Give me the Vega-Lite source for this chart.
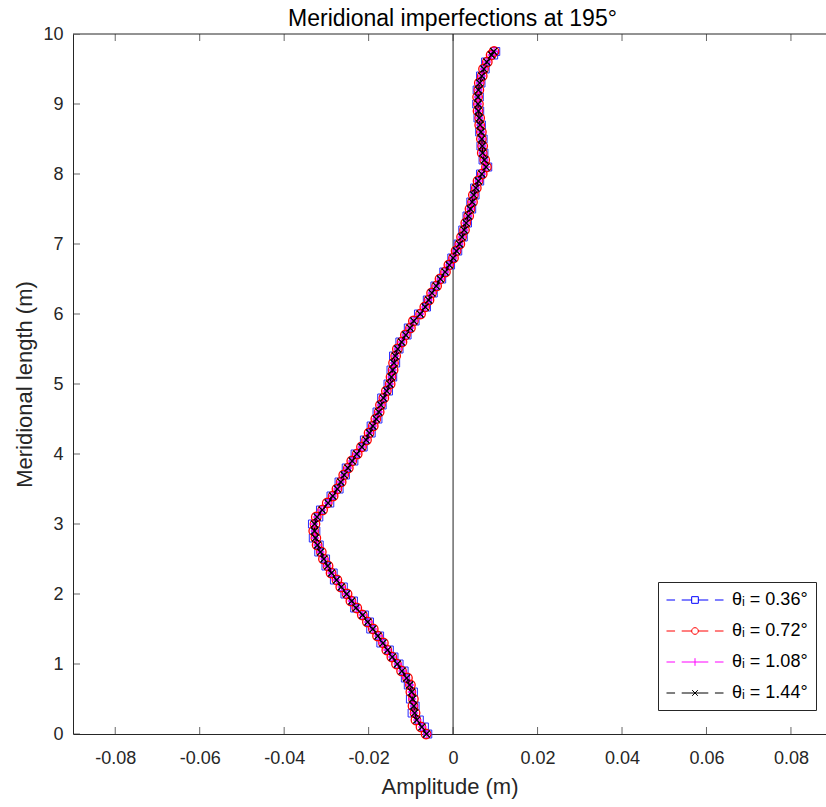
{
"$schema":"https://vega.github.io/schema/vega-lite/v6.json",
"width":753,"height":700,"autosize":"none",
"padding":{"left":73,"top":34,"right":0,"bottom":73},
"background":"white",
"title":{"text":"Meridional imperfections at 195°","font":"Liberation Sans","fontSize":23,"fontWeight":"normal","color":"#000000","offset":6,"dx":3,"dy":12},
"config":{"view":{"stroke":null},"point":{"opacity":1},"axis":{"domainColor":"#262626","tickColor":"#262626","labelColor":"#262626","titleColor":"#262626","labelFont":"Liberation Sans","labelFontSize":18,"titleFont":"Liberation Sans","titleFontSize":22,"titleFontWeight":"normal","domainWidth":1,"ticks":false,"grid":false},
"legend":{"strokeColor":"#262626","fillColor":"#ffffff","padding":8,"labelFont":"Liberation Sans","labelFontSize":18,"labelColor":"#000000","symbolStrokeWidth":1,"symbolOpacity":1}},
"datasets":{
"ticksx":[{"t":-0.08},{"t":-0.06},{"t":-0.04},{"t":-0.02},{"t":0},{"t":0.02},{"t":0.04},{"t":0.06},{"t":0.08}],
"ticksy":[{"u":0},{"u":1},{"u":2},{"u":3},{"u":4},{"u":5},{"u":6},{"u":7},{"u":8},{"u":9},{"u":10}],
"curve":[
{"y":0.0,"a":-0.0060,"b":-0.0064,"c":-0.0062,"d":-0.0063},
{"y":0.1,"a":-0.0068,"b":-0.0076,"c":-0.0073,"d":-0.0074},
{"y":0.2,"a":-0.0080,"b":-0.0088,"c":-0.0085,"d":-0.0086},
{"y":0.3,"a":-0.0097,"b":-0.0090,"c":-0.0092,"d":-0.0091},
{"y":0.4,"a":-0.0090,"b":-0.0095,"c":-0.0093,"d":-0.0093},
{"y":0.5,"a":-0.0101,"b":-0.0094,"c":-0.0097,"d":-0.0096},
{"y":0.6,"a":-0.0094,"b":-0.0100,"c":-0.0098,"d":-0.0098},
{"y":0.7,"a":-0.0106,"b":-0.0101,"c":-0.0102,"d":-0.0103},
{"y":0.8,"a":-0.0113,"b":-0.0108,"c":-0.0111,"d":-0.0110},
{"y":0.9,"a":-0.0116,"b":-0.0122,"c":-0.0120,"d":-0.0121},
{"y":1.0,"a":-0.0128,"b":-0.0134,"c":-0.0131,"d":-0.0132},
{"y":1.1,"a":-0.0140,"b":-0.0145,"c":-0.0144,"d":-0.0144},
{"y":1.2,"a":-0.0151,"b":-0.0157,"c":-0.0156,"d":-0.0155},
{"y":1.3,"a":-0.0171,"b":-0.0165,"c":-0.0167,"d":-0.0166},
{"y":1.4,"a":-0.0174,"b":-0.0179,"c":-0.0177,"d":-0.0178},
{"y":1.5,"a":-0.0195,"b":-0.0189,"c":-0.0190,"d":-0.0190},
{"y":1.6,"a":-0.0198,"b":-0.0203,"c":-0.0201,"d":-0.0202},
{"y":1.7,"a":-0.0210,"b":-0.0215,"c":-0.0214,"d":-0.0214},
{"y":1.8,"a":-0.0233,"b":-0.0228,"c":-0.0229,"d":-0.0230},
{"y":1.9,"a":-0.0236,"b":-0.0242,"c":-0.0240,"d":-0.0240},
{"y":2.0,"a":-0.0256,"b":-0.0251,"c":-0.0253,"d":-0.0252},
{"y":2.1,"a":-0.0260,"b":-0.0266,"c":-0.0264,"d":-0.0265},
{"y":2.2,"a":-0.0281,"b":-0.0275,"c":-0.0276,"d":-0.0276},
{"y":2.3,"a":-0.0284,"b":-0.0289,"c":-0.0288,"d":-0.0288},
{"y":2.4,"a":-0.0301,"b":-0.0296,"c":-0.0298,"d":-0.0297},
{"y":2.5,"a":-0.0302,"b":-0.0307,"c":-0.0305,"d":-0.0306},
{"y":2.6,"a":-0.0318,"b":-0.0312,"c":-0.0314,"d":-0.0314},
{"y":2.7,"a":-0.0317,"b":-0.0322,"c":-0.0321,"d":-0.0321},
{"y":2.8,"a":-0.0331,"b":-0.0325,"c":-0.0327,"d":-0.0326},
{"y":2.9,"a":-0.0325,"b":-0.0330,"c":-0.0328,"d":-0.0328},
{"y":3.0,"a":-0.0333,"b":-0.0327,"c":-0.0329,"d":-0.0328},
{"y":3.1,"a":-0.0318,"b":-0.0324,"c":-0.0322,"d":-0.0322},
{"y":3.2,"a":-0.0314,"b":-0.0309,"c":-0.0311,"d":-0.0310},
{"y":3.3,"a":-0.0292,"b":-0.0298,"c":-0.0296,"d":-0.0296},
{"y":3.4,"a":-0.0289,"b":-0.0284,"c":-0.0285,"d":-0.0285},
{"y":3.5,"a":-0.0270,"b":-0.0275,"c":-0.0274,"d":-0.0274},
{"y":3.6,"a":-0.0270,"b":-0.0265,"c":-0.0266,"d":-0.0266},
{"y":3.7,"a":-0.0255,"b":-0.0259,"c":-0.0258,"d":-0.0258},
{"y":3.8,"a":-0.0253,"b":-0.0248,"c":-0.0249,"d":-0.0249},
{"y":3.9,"a":-0.0235,"b":-0.0240,"c":-0.0239,"d":-0.0239},
{"y":4.0,"a":-0.0232,"b":-0.0227,"c":-0.0228,"d":-0.0228},
{"y":4.1,"a":-0.0213,"b":-0.0217,"c":-0.0216,"d":-0.0216},
{"y":4.2,"a":-0.0210,"b":-0.0205,"c":-0.0206,"d":-0.0206},
{"y":4.3,"a":-0.0194,"b":-0.0199,"c":-0.0198,"d":-0.0198},
{"y":4.4,"a":-0.0194,"b":-0.0189,"c":-0.0190,"d":-0.0190},
{"y":4.5,"a":-0.0178,"b":-0.0183,"c":-0.0182,"d":-0.0182},
{"y":4.6,"a":-0.0180,"b":-0.0175,"c":-0.0176,"d":-0.0176},
{"y":4.7,"a":-0.0168,"b":-0.0172,"c":-0.0171,"d":-0.0171},
{"y":4.8,"a":-0.0169,"b":-0.0164,"c":-0.0165,"d":-0.0165},
{"y":4.9,"a":-0.0153,"b":-0.0158,"c":-0.0157,"d":-0.0157},
{"y":5.0,"a":-0.0154,"b":-0.0149,"c":-0.0150,"d":-0.0150},
{"y":5.1,"a":-0.0143,"b":-0.0147,"c":-0.0146,"d":-0.0146},
{"y":5.2,"a":-0.0147,"b":-0.0142,"c":-0.0143,"d":-0.0143},
{"y":5.3,"a":-0.0136,"b":-0.0141,"c":-0.0140,"d":-0.0140},
{"y":5.4,"a":-0.0141,"b":-0.0136,"c":-0.0137,"d":-0.0137},
{"y":5.5,"a":-0.0128,"b":-0.0132,"c":-0.0131,"d":-0.0131},
{"y":5.6,"a":-0.0126,"b":-0.0121,"c":-0.0122,"d":-0.0122},
{"y":5.7,"a":-0.0109,"b":-0.0113,"c":-0.0112,"d":-0.0112},
{"y":5.8,"a":-0.0106,"b":-0.0101,"c":-0.0102,"d":-0.0102},
{"y":5.9,"a":-0.0090,"b":-0.0094,"c":-0.0093,"d":-0.0093},
{"y":6.0,"a":-0.0082,"b":-0.0077,"c":-0.0078,"d":-0.0078},
{"y":6.1,"a":-0.0063,"b":-0.0067,"c":-0.0066,"d":-0.0066},
{"y":6.2,"a":-0.0061,"b":-0.0057,"c":-0.0058,"d":-0.0058},
{"y":6.3,"a":-0.0047,"b":-0.0051,"c":-0.0050,"d":-0.0050},
{"y":6.4,"a":-0.0043,"b":-0.0039,"c":-0.0040,"d":-0.0040},
{"y":6.5,"a":-0.0027,"b":-0.0031,"c":-0.0030,"d":-0.0030},
{"y":6.6,"a":-0.0022,"b":-0.0018,"c":-0.0019,"d":-0.0019},
{"y":6.7,"a":-0.0006,"b":-0.0010,"c":-0.0009,"d":-0.0009},
{"y":6.8,"a":-0.0003,"b":0.0001,"c":0.0000,"d":0.0000},
{"y":6.9,"a":0.0011,"b":0.0007,"c":0.0008,"d":0.0008},
{"y":7.0,"a":0.0012,"b":0.0016,"c":0.0015,"d":0.0015},
{"y":7.1,"a":0.0024,"b":0.0020,"c":0.0021,"d":0.0021},
{"y":7.2,"a":0.0023,"b":0.0027,"c":0.0026,"d":0.0026},
{"y":7.3,"a":0.0034,"b":0.0030,"c":0.0031,"d":0.0031},
{"y":7.4,"a":0.0033,"b":0.0037,"c":0.0036,"d":0.0036},
{"y":7.5,"a":0.0044,"b":0.0040,"c":0.0041,"d":0.0041},
{"y":7.6,"a":0.0042,"b":0.0046,"c":0.0045,"d":0.0045},
{"y":7.7,"a":0.0052,"b":0.0048,"c":0.0049,"d":0.0049},
{"y":7.8,"a":0.0051,"b":0.0055,"c":0.0054,"d":0.0054},
{"y":7.9,"a":0.0063,"b":0.0059,"c":0.0060,"d":0.0060},
{"y":8.0,"a":0.0065,"b":0.0069,"c":0.0068,"d":0.0068},
{"y":8.1,"a":0.0082,"b":0.0079,"c":0.0078,"d":0.0078},
{"y":8.2,"a":0.0071,"b":0.0075,"c":0.0074,"d":0.0074},
{"y":8.3,"a":0.0073,"b":0.0069,"c":0.0070,"d":0.0070},
{"y":8.4,"a":0.0066,"b":0.0070,"c":0.0069,"d":0.0069},
{"y":8.5,"a":0.0071,"b":0.0067,"c":0.0068,"d":0.0068},
{"y":8.6,"a":0.0063,"b":0.0067,"c":0.0066,"d":0.0066},
{"y":8.7,"a":0.0067,"b":0.0063,"c":0.0064,"d":0.0064},
{"y":8.8,"a":0.0059,"b":0.0063,"c":0.0062,"d":0.0062},
{"y":8.9,"a":0.0063,"b":0.0059,"c":0.0060,"d":0.0060},
{"y":9.0,"a":0.0056,"b":0.0060,"c":0.0059,"d":0.0059},
{"y":9.1,"a":0.0062,"b":0.0058,"c":0.0059,"d":0.0059},
{"y":9.2,"a":0.0057,"b":0.0061,"c":0.0060,"d":0.0060},
{"y":9.3,"a":0.0066,"b":0.0062,"c":0.0063,"d":0.0063},
{"y":9.4,"a":0.0065,"b":0.0069,"c":0.0068,"d":0.0068},
{"y":9.5,"a":0.0076,"b":0.0072,"c":0.0073,"d":0.0073},
{"y":9.6,"a":0.0077,"b":0.0081,"c":0.0080,"d":0.0080},
{"y":9.7,"a":0.0096,"b":0.0090,"c":0.0091,"d":0.0091},
{"y":9.75,"a":0.0101,"b":0.0097,"c":0.0097,"d":0.0096}
]},
"layer":[
{"data":{"name":"ticksx"},"mark":{"type":"rule","color":"#555555","strokeWidth":1.3},
 "transform":[{"filter":"datum.t == 0"}],
 "encoding":{"x":{"field":"t","type":"quantitative","scale":{"domain":[-0.09,0.0883],"nice":false,"zero":false},"title":"Amplitude (m)","axis":{"values":[-0.08,-0.06,-0.04,-0.02,0,0.02,0.04,0.06,0.08],"labelExpr":"datum.value == 0 ? '0' : (datum.value < 0 ? '-' + format(-datum.value, '.2f') : format(datum.value, '.2f'))","labelPadding":15,"titlePadding":9}}}},
{"data":{"name":"ticksy"},"mark":{"type":"rule","color":"#262626","strokeWidth":1},
 "transform":[{"filter":"datum.u == 10"}],
 "encoding":{"y":{"field":"u","type":"quantitative","scale":{"domain":[0,10],"nice":false},"title":"Meridional length (m)","axis":{"values":[0,1,2,3,4,5,6,7,8,9,10],"format":"d","labelPadding":10,"titlePadding":6}}}},
{"data":{"name":"ticksx"},"mark":{"type":"tick","orient":"vertical","color":"#262626","thickness":1,"size":14,"clip":true},
 "encoding":{"x":{"field":"t","type":"quantitative","scale":{"domain":[-0.09,0.0883],"nice":false,"zero":false},"title":"Amplitude (m)","axis":{"values":[-0.08,-0.06,-0.04,-0.02,0,0.02,0.04,0.06,0.08],"labelExpr":"datum.value == 0 ? '0' : (datum.value < 0 ? '-' + format(-datum.value, '.2f') : format(datum.value, '.2f'))","labelPadding":15,"titlePadding":9}},
  "y":{"datum":0,"type":"quantitative","scale":{"domain":[0,10],"nice":false},"title":"Meridional length (m)","axis":{"values":[0,1,2,3,4,5,6,7,8,9,10],"format":"d","labelPadding":10,"titlePadding":6}}}},
{"data":{"name":"ticksx"},"mark":{"type":"tick","orient":"vertical","color":"#262626","thickness":1,"size":14,"clip":true},
 "encoding":{"x":{"field":"t","type":"quantitative","scale":{"domain":[-0.09,0.0883],"nice":false,"zero":false},"title":"Amplitude (m)","axis":{"values":[-0.08,-0.06,-0.04,-0.02,0,0.02,0.04,0.06,0.08],"labelExpr":"datum.value == 0 ? '0' : (datum.value < 0 ? '-' + format(-datum.value, '.2f') : format(datum.value, '.2f'))","labelPadding":15,"titlePadding":9}},
  "y":{"datum":10,"type":"quantitative","scale":{"domain":[0,10],"nice":false},"title":"Meridional length (m)","axis":{"values":[0,1,2,3,4,5,6,7,8,9,10],"format":"d","labelPadding":10,"titlePadding":6}}}},
{"data":{"name":"ticksy"},"mark":{"type":"tick","orient":"horizontal","color":"#262626","thickness":1,"size":14,"clip":true},
 "encoding":{"y":{"field":"u","type":"quantitative","scale":{"domain":[0,10],"nice":false},"title":"Meridional length (m)","axis":{"values":[0,1,2,3,4,5,6,7,8,9,10],"format":"d","labelPadding":10,"titlePadding":6}},
  "x":{"datum":-0.09,"type":"quantitative","scale":{"domain":[-0.09,0.0883],"nice":false,"zero":false},"title":"Amplitude (m)","axis":{"values":[-0.08,-0.06,-0.04,-0.02,0,0.02,0.04,0.06,0.08],"labelExpr":"datum.value == 0 ? '0' : (datum.value < 0 ? '-' + format(-datum.value, '.2f') : format(datum.value, '.2f'))","labelPadding":15,"titlePadding":9}}}},
{"data":{"name":"curve"},"transform":[{"fold":["a"],"as":["series","x"]}],
 "mark":{"type":"line","strokeDash":[5,4],"strokeWidth":1,"color":"#0000ff"},
 "encoding":{
  "x":{"field":"x","type":"quantitative","scale":{"domain":[-0.09,0.0883],"nice":false,"zero":false},"title":"Amplitude (m)","axis":{"values":[-0.08,-0.06,-0.04,-0.02,0,0.02,0.04,0.06,0.08],"labelExpr":"datum.value == 0 ? '0' : (datum.value < 0 ? '-' + format(-datum.value, '.2f') : format(datum.value, '.2f'))","labelPadding":15,"titlePadding":9}},
  "y":{"field":"y","type":"quantitative","scale":{"domain":[0,10],"nice":false},"title":"Meridional length (m)","axis":{"values":[0,1,2,3,4,5,6,7,8,9,10],"format":"d","labelPadding":10,"titlePadding":6}},
  "order":{"field":"y","type":"quantitative"}}},
{"data":{"name":"curve"},"transform":[{"fold":["a"],"as":["series","x"]}],
 "mark":{"type":"point","shape":"square","filled":false,"size":64,"strokeWidth":1,"color":"#2a2aff","opacity":1},
 "encoding":{"x":{"field":"x","type":"quantitative","scale":{"domain":[-0.09,0.0883],"nice":false,"zero":false},"title":"Amplitude (m)","axis":{"values":[-0.08,-0.06,-0.04,-0.02,0,0.02,0.04,0.06,0.08],"labelExpr":"datum.value == 0 ? '0' : (datum.value < 0 ? '-' + format(-datum.value, '.2f') : format(datum.value, '.2f'))","labelPadding":15,"titlePadding":9}},
  "y":{"field":"y","type":"quantitative","scale":{"domain":[0,10],"nice":false},"title":"Meridional length (m)","axis":{"values":[0,1,2,3,4,5,6,7,8,9,10],"format":"d","labelPadding":10,"titlePadding":6}}}},
{"data":{"name":"curve"},"transform":[{"fold":["b"],"as":["series","x"]}],
 "mark":{"type":"line","strokeDash":[5,4],"strokeWidth":1,"color":"#ff0000"},
 "encoding":{
  "x":{"field":"x","type":"quantitative","scale":{"domain":[-0.09,0.0883],"nice":false,"zero":false},"title":"Amplitude (m)","axis":{"values":[-0.08,-0.06,-0.04,-0.02,0,0.02,0.04,0.06,0.08],"labelExpr":"datum.value == 0 ? '0' : (datum.value < 0 ? '-' + format(-datum.value, '.2f') : format(datum.value, '.2f'))","labelPadding":15,"titlePadding":9}},
  "y":{"field":"y","type":"quantitative","scale":{"domain":[0,10],"nice":false},"title":"Meridional length (m)","axis":{"values":[0,1,2,3,4,5,6,7,8,9,10],"format":"d","labelPadding":10,"titlePadding":6}},
  "order":{"field":"y","type":"quantitative"}}},
{"data":{"name":"curve"},"transform":[{"fold":["b"],"as":["series","x"]}],
 "mark":{"type":"point","shape":"circle","filled":false,"size":90,"strokeWidth":1.3,"color":"#ff0000","opacity":1},
 "encoding":{"x":{"field":"x","type":"quantitative","scale":{"domain":[-0.09,0.0883],"nice":false,"zero":false},"title":"Amplitude (m)","axis":{"values":[-0.08,-0.06,-0.04,-0.02,0,0.02,0.04,0.06,0.08],"labelExpr":"datum.value == 0 ? '0' : (datum.value < 0 ? '-' + format(-datum.value, '.2f') : format(datum.value, '.2f'))","labelPadding":15,"titlePadding":9}},
  "y":{"field":"y","type":"quantitative","scale":{"domain":[0,10],"nice":false},"title":"Meridional length (m)","axis":{"values":[0,1,2,3,4,5,6,7,8,9,10],"format":"d","labelPadding":10,"titlePadding":6}}}},
{"data":{"name":"curve"},"transform":[{"fold":["c"],"as":["series","x"]}],
 "mark":{"type":"line","strokeDash":[5,4],"strokeWidth":1,"color":"#ff00ff"},
 "encoding":{
  "x":{"field":"x","type":"quantitative","scale":{"domain":[-0.09,0.0883],"nice":false,"zero":false},"title":"Amplitude (m)","axis":{"values":[-0.08,-0.06,-0.04,-0.02,0,0.02,0.04,0.06,0.08],"labelExpr":"datum.value == 0 ? '0' : (datum.value < 0 ? '-' + format(-datum.value, '.2f') : format(datum.value, '.2f'))","labelPadding":15,"titlePadding":9}},
  "y":{"field":"y","type":"quantitative","scale":{"domain":[0,10],"nice":false},"title":"Meridional length (m)","axis":{"values":[0,1,2,3,4,5,6,7,8,9,10],"format":"d","labelPadding":10,"titlePadding":6}},
  "order":{"field":"y","type":"quantitative"}}},
{"data":{"name":"curve"},"transform":[{"fold":["c"],"as":["series","x"]}],
 "mark":{"type":"point","shape":"M-1,0H1M0,-1V1","filled":false,"size":64,"strokeWidth":1.3,"color":"#ff00ff","opacity":1},
 "encoding":{"x":{"field":"x","type":"quantitative","scale":{"domain":[-0.09,0.0883],"nice":false,"zero":false},"title":"Amplitude (m)","axis":{"values":[-0.08,-0.06,-0.04,-0.02,0,0.02,0.04,0.06,0.08],"labelExpr":"datum.value == 0 ? '0' : (datum.value < 0 ? '-' + format(-datum.value, '.2f') : format(datum.value, '.2f'))","labelPadding":15,"titlePadding":9}},
  "y":{"field":"y","type":"quantitative","scale":{"domain":[0,10],"nice":false},"title":"Meridional length (m)","axis":{"values":[0,1,2,3,4,5,6,7,8,9,10],"format":"d","labelPadding":10,"titlePadding":6}}}},
{"data":{"name":"curve"},"transform":[{"fold":["d"],"as":["series","x"]}],
 "mark":{"type":"line","strokeDash":[5,4],"strokeWidth":1.2,"color":"#000000"},
 "encoding":{
  "x":{"field":"x","type":"quantitative","scale":{"domain":[-0.09,0.0883],"nice":false,"zero":false},"title":"Amplitude (m)","axis":{"values":[-0.08,-0.06,-0.04,-0.02,0,0.02,0.04,0.06,0.08],"labelExpr":"datum.value == 0 ? '0' : (datum.value < 0 ? '-' + format(-datum.value, '.2f') : format(datum.value, '.2f'))","labelPadding":15,"titlePadding":9}},
  "y":{"field":"y","type":"quantitative","scale":{"domain":[0,10],"nice":false},"title":"Meridional length (m)","axis":{"values":[0,1,2,3,4,5,6,7,8,9,10],"format":"d","labelPadding":10,"titlePadding":6}},
  "order":{"field":"y","type":"quantitative"}}},
{"data":{"name":"curve"},"transform":[{"fold":["d"],"as":["series","x"]}],
 "mark":{"type":"point","shape":"M-1,-1L1,1M1,-1L-1,1","filled":false,"size":49,"strokeWidth":1.3,"color":"#000000","opacity":1},
 "encoding":{"x":{"field":"x","type":"quantitative","scale":{"domain":[-0.09,0.0883],"nice":false,"zero":false},"title":"Amplitude (m)","axis":{"values":[-0.08,-0.06,-0.04,-0.02,0,0.02,0.04,0.06,0.08],"labelExpr":"datum.value == 0 ? '0' : (datum.value < 0 ? '-' + format(-datum.value, '.2f') : format(datum.value, '.2f'))","labelPadding":15,"titlePadding":9}},
  "y":{"field":"y","type":"quantitative","scale":{"domain":[0,10],"nice":false},"title":"Meridional length (m)","axis":{"values":[0,1,2,3,4,5,6,7,8,9,10],"format":"d","labelPadding":10,"titlePadding":6}}}},
{"data":{"name":"curve"},"transform":[{"fold":["a","b","c","d"],"as":["series","x"]},{"filter":"datum.y == 0"}],
 "mark":{"type":"point","filled":false,"strokeWidth":1,"opacity":1},
 "encoding":{"x":{"field":"x","type":"quantitative","scale":{"domain":[-0.09,0.0883],"nice":false,"zero":false},"title":"Amplitude (m)","axis":{"values":[-0.08,-0.06,-0.04,-0.02,0,0.02,0.04,0.06,0.08],"labelExpr":"datum.value == 0 ? '0' : (datum.value < 0 ? '-' + format(-datum.value, '.2f') : format(datum.value, '.2f'))","labelPadding":15,"titlePadding":9}},
  "y":{"field":"y","type":"quantitative","scale":{"domain":[0,10],"nice":false},"title":"Meridional length (m)","axis":{"values":[0,1,2,3,4,5,6,7,8,9,10],"format":"d","labelPadding":10,"titlePadding":6}},
  "size":{"value":0},
  "color":{"field":"series","type":"nominal","scale":{"domain":["a","b","c","d"],"range":["#0000ff","#ff0000","#ff00ff","#000000"]},"legend":{"title":null,"orient":"none","legendX":585,"legendY":548,"symbolSize":361,"symbolOffset":19,"labelOffset":27,"rowPadding":12,"symbolOpacity":1,"labelExpr":"datum.value == 'a' ? 'θᵢ = 0.36°' : datum.value == 'b' ? 'θᵢ = 0.72°' : datum.value == 'c' ? 'θᵢ = 1.08°' : 'θᵢ = 1.44°'"}},
  "shape":{"field":"series","type":"nominal","scale":{"domain":["a","b","c","d"],"range":["M-3,0H-2.1M-1.4,0H-0.35M-0.35,-0.35H0.35V0.35H-0.35ZM0.35,0H1.4M2.1,0H3","M-3,0H-2.1M-1.4,0H-0.35M0.35,0A0.35,0.35 0 1,1 -0.35,0A0.35,0.35 0 1,1 0.35,0M0.35,0H1.4M2.1,0H3","M-3,0H-2.1M-1.4,0H1.4M0,-0.4V0.4M2.1,0H3","M-3,0H-2.1M-1.4,0H1.4M-0.3,-0.3L0.3,0.3M0.3,-0.3L-0.3,0.3M2.1,0H3"]},"legend":{"title":null,"orient":"none","legendX":585,"legendY":548,"symbolSize":361,"symbolOffset":19,"labelOffset":27,"rowPadding":12,"symbolOpacity":1,"labelExpr":"datum.value == 'a' ? 'θᵢ = 0.36°' : datum.value == 'b' ? 'θᵢ = 0.72°' : datum.value == 'c' ? 'θᵢ = 1.08°' : 'θᵢ = 1.44°'"}}}}
]
}
